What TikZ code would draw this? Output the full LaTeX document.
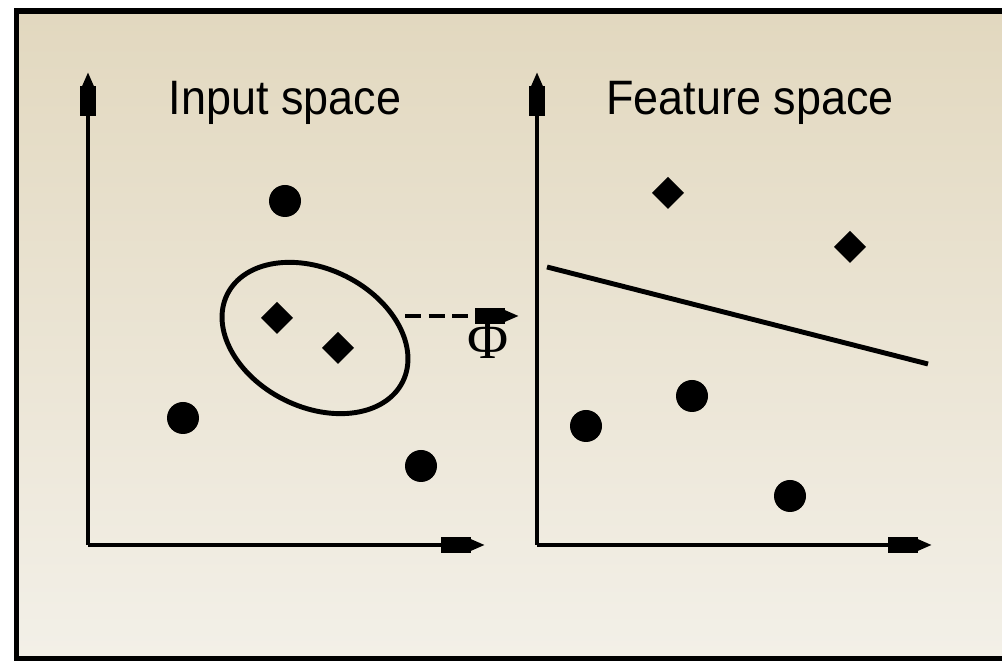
\documentclass[tikz,border=0pt]{standalone}
\usepackage{fontspec}
\setmainfont{Liberation Sans}
\newfontfamily\titlefont[FakeStretch=0.93]{Liberation Sans}
\newfontfamily\mapfont{Liberation Serif}
\usetikzlibrary{arrows.meta}
\definecolor{paperTop}{RGB}{226,216,191}
\definecolor{paperBot}{RGB}{243,240,232}
\begin{document}
\begin{tikzpicture}[x=0.02cm,y=-0.02cm,
  >={Rectangle[length=17pt,width=9pt] Triangle[length=8pt,width=6pt]},
  axis/.style={line width=2.2pt,->},
  title/.style={font=\titlefont\fontsize{27.5}{30}\selectfont},
  dot/.style={fill=black}]
  \useasboundingbox (0,0) rectangle (1002,661);
  \clip (0,0) rectangle (1002,661);
  \shade[top color=paperTop,bottom color=paperBot] (16,11) rectangle (1030,659);
  \draw[line width=3.4pt] (16.5,11) rectangle (1030,659);
  % input space
  \coordinate (o1) at (88,545);
  \draw[axis] (o1) -- (88,72);
  \draw[axis] (o1) -- (485,545);
  \node[title] (in) at (285,103) {Input space};
  \fill[dot] (285,201) circle (16);
  \fill[dot] (183,418) circle (16);
  \fill[dot] (421,466) circle (16);
  \fill[shift={(277,318)}] (0,-16)--(16,0)--(0,16)--(-16,0)--cycle;
  \fill[shift={(338,348)}] (0,-16)--(16,0)--(0,16)--(-16,0)--cycle;
  \draw[line width=2.8pt,rotate around={-26.5:(315,338)}] (315,338) ellipse [x radius=98,y radius=69];
  % the map
  \coordinate (ellE) at (405,316);
  \coordinate (phiE) at (519,316);
  \draw[line width=2pt,dash pattern=on 9pt off 4.5pt,->] (ellE) -- (phiE);
  \node[font=\mapfont\fontsize{32}{34}\selectfont] (phi) at (488,340) {Φ};
  % feature space
  \coordinate (o2) at (537,545);
  \draw[axis] (o2) -- (537,72);
  \draw[axis] (o2) -- (932,545);
  \node[title] (feat) at (750,103) {Feature space};
  \fill[shift={(668,193)}] (0,-16)--(16,0)--(0,16)--(-16,0)--cycle;
  \fill[shift={(850,247)}] (0,-16)--(16,0)--(0,16)--(-16,0)--cycle;
  \fill[dot] (586,426) circle (16);
  \fill[dot] (692,396) circle (16);
  \fill[dot] (790,496) circle (16);
  \draw[line width=2.8pt] (547,267) -- (928,364);
\end{tikzpicture}
\end{document}
